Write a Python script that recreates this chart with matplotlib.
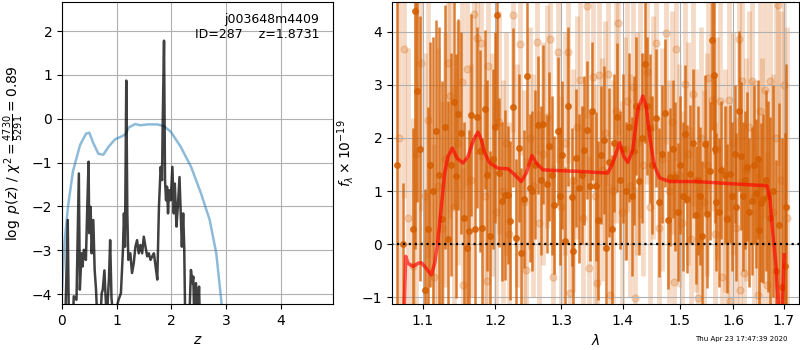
import matplotlib
matplotlib.use("Agg")
import matplotlib.pyplot as plt
from matplotlib.ticker import FixedLocator, FixedFormatter, NullLocator

# left panel: log p(z) (dark) and scaled chi2 curve (blue)
PZ_Z = [0.00, 0.06, 0.105, 0.125, 0.20, 0.215, 0.265, 0.308, 0.326, 0.357, 0.375, 0.40,
        0.437, 0.462, 0.486, 0.498, 0.523, 0.542, 0.572, 0.597, 0.622, 0.646, 0.70,
        0.726, 0.745, 0.775, 0.794, 0.818, 0.860, 0.880, 0.905, 0.942, 1.034, 1.077,
        1.114, 1.132, 1.151, 1.175, 1.194, 1.212, 1.249, 1.280, 1.311, 1.342, 1.372,
        1.403, 1.434, 1.465, 1.495, 1.526, 1.557, 1.588, 1.618, 1.649, 1.680, 1.711,
        1.742, 1.772, 1.803, 1.828, 1.840, 1.865, 1.883, 1.902, 1.920, 1.938, 1.957,
        1.988, 2.018, 2.043, 2.062, 2.092, 2.117, 2.148, 2.172, 2.191, 2.215, 2.234,
        2.252, 2.326, 2.357, 2.382, 2.400, 2.418, 2.449, 2.480, 2.505, 2.52, 4.95]
PZ_LOGP = [-4.6, -4.6, -2.31, -4.6, -4.6, -4.05, -4.13, -1.25, -3.90, -3.07, -3.37, -2.99,
           -3.22, -2.01, -0.98, -2.61, -2.01, -3.07, -2.31, -3.45, -3.90, -4.6, -4.6,
           -3.98, -3.90, -3.46, -3.98, -4.6, -3.6, -2.77, -4.1, -4.6, -4.13, -3.98,
           -2.99, -2.16, -2.92, 0.87, -2.16, -3.22, -3.07, -3.52, -3.30, -2.92, -2.77,
           -3.07, -2.88, -3.07, -2.69, -2.92, -3.14, -3.07, -3.22, -3.14, -3.07, -3.37,
           -3.67, -2.01, -1.10, -1.40, -0.19, 1.78, -1.40, -1.86, -1.55, -2.16, -1.63,
           -1.86, -1.10, -2.16, -1.48, -2.46, -2.01, -1.33, -2.23, -2.92, -2.16, -2.92,
           -4.6, -4.6, -3.45, -3.75, -3.60, -4.6, -3.75, -4.6, -3.83, -4.6, -4.6]

CHI_Z = [0.0, 0.05, 0.11, 0.20, 0.33, 0.44, 0.50, 0.57, 0.665, 0.757, 0.85, 0.97, 1.095,
         1.157, 1.22, 1.34, 1.43, 1.56, 1.74, 1.865, 1.99, 2.17, 2.36, 2.54, 2.70, 2.82,
         2.91, 2.94]
CHI_LOGP = [-3.9, -2.77, -2.0, -1.2, -0.6, -0.34, -0.32, -0.55, -0.80, -0.82, -0.64, -0.47,
            -0.40, -0.36, -0.2, -0.12, -0.15, -0.13, -0.13, -0.17, -0.30, -0.64, -1.10,
            -1.70, -2.31, -3.07, -4.13, -4.58]

# right panel: best-fit model (red)
MODEL_LAM = [1.0747, 1.0773, 1.0803, 1.0869, 1.0934, 1.0978, 1.1023, 1.1112, 1.1156, 1.1201,
             1.1246, 1.1292, 1.1337, 1.1397, 1.1461, 1.1544, 1.1614, 1.1694, 1.1755, 1.1802,
             1.1850, 1.1922, 1.2042, 1.2188, 1.2287, 1.2386, 1.2461, 1.2546, 1.2612, 1.2714,
             1.2868, 1.3289, 1.3751, 1.3834, 1.3946, 1.4018, 1.4086, 1.4171, 1.4257, 1.4343,
             1.4401, 1.4471, 1.4547, 1.4635, 1.4812, 1.5296, 1.5925, 1.6665, 1.6725, 1.6779,
             1.6846, 1.6914, 1.6960, 1.7010]
MODEL_FLUX = [-1.5, -0.23, -0.36, -0.42, -0.36, -0.35, -0.42, -0.58, -0.36, 0.08,
              0.71, 1.34, 1.65, 1.81, 1.62, 1.53, 1.65, 1.97, 2.11, 1.97,
              1.72, 1.53, 1.43, 1.42, 1.31, 1.18, 1.34, 1.67, 1.53, 1.40,
              1.39, 1.37, 1.34, 1.53, 1.91, 1.65, 1.54, 1.78, 2.53, 2.79,
              2.60, 1.97, 1.47, 1.25, 1.18, 1.18, 1.14, 1.10, 0.84, 0.21,
              -0.42, -1.5, -1.6, -0.2]

# first spectrum (dark orange)
DARK_LAM = [1.0660, 1.0737, 1.0864, 1.0898, 1.0920, 1.0960, 1.1030, 1.1067, 1.1100, 1.1140,
            1.1178, 1.1215, 1.1255, 1.1295, 1.1336, 1.1375, 1.1413, 1.1449, 1.1480, 1.1516,
            1.1560, 1.1600, 1.1624, 1.1660, 1.1717, 1.1735, 1.1777, 1.1817, 1.1860, 1.1890,
            1.1925, 1.1965, 1.2000, 1.2032, 1.2057, 1.2101, 1.2147, 1.2190, 1.2215, 1.2268,
            1.2310, 1.2347, 1.2380, 1.2430, 1.2474, 1.2520, 1.2550, 1.2600, 1.2644, 1.2680,
            1.2720, 1.2775, 1.2810, 1.2850, 1.2888, 1.2940, 1.2980, 1.3015, 1.3060, 1.3107,
            1.3160, 1.3190, 1.3225, 1.3280, 1.3320, 1.3360, 1.3410, 1.3465, 1.3490, 1.3550,
            1.3590, 1.3637, 1.3680, 1.3725, 1.3768, 1.3820, 1.3860, 1.3904, 1.3950, 1.4000,
            1.4050, 1.4110, 1.4150, 1.4190, 1.4230, 1.4280, 1.4330, 1.4388, 1.4420, 1.4460,
            1.4510, 1.4570, 1.4630, 1.4680, 1.4740, 1.4780, 1.4830, 1.4880, 1.4920, 1.4960,
            1.5010, 1.5050, 1.5090, 1.5135, 1.5185, 1.5240, 1.5290, 1.5340, 1.5370, 1.5410,
            1.5465, 1.5500, 1.5560, 1.5595, 1.5625, 1.5645, 1.5675, 1.5720, 1.5770, 1.5830,
            1.5880, 1.5930, 1.5980, 1.6030, 1.6060, 1.6100, 1.6140, 1.6180, 1.6220, 1.6260,
            1.6300, 1.6360, 1.6400, 1.6440, 1.6480, 1.6510, 1.6540, 1.6590, 1.6640, 1.6690,
            1.6730, 1.6780, 1.6855, 1.6910, 1.6960, 1.7030, 1.7050]
DARK_FLUX = [1.5, 0.0, 0.28, 4.40, 2.89, 1.8, -0.87, 0.28, 1.5, 1.0,
             2.13, 1.3, 0.48, 2.2, 0.10, 1.5, 2.67, 1.28, 2.45, 2.09,
             0.5, -0.08, 0.25, 2.43, 0.28, 2.39, 1.75, 0.30, 2.54, 1.3,
             0.16, 1.6, 2.2, 4.32, 1.35, 0.81, 0.92, 0.92, 0.44, 2.58,
             0.11, 1.81, -0.16, 0.86, 3.17, 1.06, 1.00, 1.5, 2.25, 1.2,
             2.26, 1.14, 1.84, 1.3, 0.74, 2.13, 0.9, 1.68, 0.06, 2.60,
             0.88, -0.13, 1.62, 1.05, 1.3, 1.77, 2.15, 1.09, 2.51, 1.09,
             0.45, 1.68, 1.96, -0.08, 1.54, 0.28, 1.9, 2.39, 1.21, 1.8,
             1.0, 2.20, 0.9, 1.76, 2.6, 1.19, 2.0, 3.40, 2.6, 2.18,
             1.5, 2.37, 0.79, 1.7, 2.47, 0.45, 1.27, 1.8, 1.27, 0.60,
             1.5, 0.9, 2.08, 0.85, 1.33, 1.9, 0.55, 1.2, 0.9, 0.16,
             1.89, 0.57, 1.38, 3.85, 3.19, 1.79, 0.79, 0.60, 1.4, 1.31,
             0.48, 1.32, 0.9, 1.7, 0.7, 2.51, 1.66, 0.9, 1.2, 1.46,
             0.6, 0.81, 1.5, 0.96, 1.6, 0.26, 0.78, 0.86, 1.2, 0.9,
             0.5, 1.0, -0.51, 0.36, -0.8, -0.41, 0.7]
DARK_ERR = [4.5, 1.15, 1.9, 4.5, 2.1, 2.5, 1.9, 2.3, 2.3, 2.9,
            2.1, 2.8, 2.6, 2.3, 2.6, 2.1, 2.0, 2.3, 1.8, 1.9,
            1.8, 1.7, 1.9, 1.9, 1.8, 1.7, 1.9, 1.7, 1.5, 1.8,
            1.6, 1.7, 1.8, 2.1, 1.4, 1.5, 1.6, 1.3, 1.5, 1.5,
            1.5, 1.4, 1.6, 1.3, 1.7, 1.4, 1.5, 1.4, 1.3, 1.4,
            1.5, 1.3, 1.4, 1.5, 1.3, 1.4, 1.3, 1.4, 1.4, 1.5,
            1.3, 1.4, 1.3, 1.4, 1.3, 1.4, 1.3, 1.4, 1.3, 1.4,
            1.5, 1.3, 1.4, 1.5, 1.4, 1.4, 1.3, 1.4, 1.3, 1.4,
            1.3, 1.4, 1.5, 1.4, 1.3, 1.4, 1.6, 1.5, 1.3, 1.4,
            1.3, 1.3, 1.4, 1.3, 1.4, 1.3, 1.3, 1.3, 1.4, 1.3,
            1.3, 1.4, 1.3, 1.4, 1.3, 1.4, 1.3, 1.4, 1.3, 1.4,
            1.3, 1.4, 1.3, 1.7, 1.5, 1.4, 1.3, 1.4, 1.3, 1.3,
            1.4, 1.3, 1.4, 1.3, 1.4, 1.5, 1.4, 1.4, 1.3, 1.4,
            1.4, 1.4, 1.5, 1.4, 1.5, 1.4, 1.5, 1.6, 1.7, 1.8,
            1.9, 2.0, 2.1, 2.3, 2.8, 2.5, 2.7]

# second spectrum (faint orange)
LIGHT_LAM = [1.0680, 1.0750, 1.0800, 1.0869, 1.0907, 1.0969, 1.1020, 1.1071, 1.1147, 1.1200,
             1.1250, 1.1300, 1.1342, 1.1365, 1.1420, 1.1470, 1.1526, 1.1544, 1.1605, 1.1650,
             1.1703, 1.1736, 1.1798, 1.1850, 1.1888, 1.1903, 1.1960, 1.2010, 1.2060, 1.2110,
             1.2160, 1.2210, 1.2268, 1.2320, 1.2367, 1.2420, 1.2461, 1.2510, 1.2560, 1.2618,
             1.2660, 1.2720, 1.2770, 1.2823, 1.2868, 1.2952, 1.3000, 1.3060, 1.3110, 1.3130,
             1.3180, 1.3240, 1.3297, 1.3350, 1.3415, 1.3439, 1.3500, 1.3540, 1.3575, 1.3610,
             1.3660, 1.3710, 1.3759, 1.3790, 1.3840, 1.3880, 1.3926, 1.3980, 1.4030, 1.4080,
             1.4130, 1.4181, 1.4200, 1.4250, 1.4300, 1.4350, 1.4411, 1.4460, 1.4520, 1.4575,
             1.4620, 1.4680, 1.4752, 1.4800, 1.4850, 1.4890, 1.4932, 1.4990, 1.5040, 1.5095,
             1.5150, 1.5200, 1.5248, 1.5300, 1.5340, 1.5390, 1.5440, 1.5490, 1.5526, 1.5589,
             1.5640, 1.5690, 1.5748, 1.5775, 1.5830, 1.5870, 1.5908, 1.5935, 1.5990, 1.6050,
             1.6101, 1.6124, 1.6167, 1.6203, 1.6250, 1.6300, 1.6362, 1.6410, 1.6476, 1.6520,
             1.6570, 1.6620, 1.6665, 1.6725, 1.6780, 1.6840, 1.6895, 1.6950, 1.7010, 1.7060]
LIGHT_FLUX = [2.0, 3.67, 0.5, -0.42, 1.70, 3.42, 0.9, 2.33, -0.61, 1.1,
              0.3, 1.6, 3.42, 2.80, 0.7, 1.9, 3.05, -0.77, 3.30, 1.2,
              4.33, 3.89, 3.79, 0.9, -0.70, 3.35, 1.5, 0.6, 2.3, 1.0,
              1.9, 0.2, 4.31, 1.3, 3.78, 0.8, -0.48, 2.0, 1.1, 3.80,
              0.4, 1.7, 2.4, 3.87, -0.61, 3.62, 0.7, 1.9, 3.62, -0.92,
              1.2, 2.2, 3.10, 0.5, 4.48, -0.44, 3.15, 0.9, -0.74, 3.19,
              1.4, 2.1, 3.21, -0.96, 1.0, 2.5, 4.16, 0.6, 1.8, 2.7,
              1.1, 2.97, -1.02, 1.9, 2.6, 1.5, 3.24, 0.7, 2.2, 3.79,
              0.3, 1.6, 3.98, 1.0, 2.3, -0.72, 3.67, 1.3, 0.4, 3.01,
              1.7, 0.1, 2.82, 1.2, -1.02, 2.0, 0.8, 1.5, 3.13, 2.72,
              0.2, 1.8, 2.69, -0.61, 1.2, 0.5, 2.72, -1.08, 1.9, 0.3,
              3.87, -0.86, 3.08, -0.55, 1.4, 2.2, 3.07, 0.9, -0.96, 2.5,
              1.1, 2.9, -0.77, 3.07, 0.6, 2.0, 4.50, 1.2, 3.0, 0.5]
LIGHT_ERR = [3.2, 2.8, 3.2, 2.8, 3.0, 2.8, 2.7, 2.6, 2.5, 2.6,
             2.4, 2.4, 2.4, 2.3, 2.3, 2.3, 2.2, 2.2, 2.2, 2.2,
             2.3, 2.2, 2.2, 2.1, 2.2, 2.1, 2.1, 2.1, 2.1, 2.1,
             2.1, 2.1, 2.2, 2.1, 2.1, 2.1, 2.1, 2.1, 2.1, 2.1,
             2.1, 2.1, 2.1, 2.1, 2.1, 2.1, 2.1, 2.1, 2.1, 2.1,
             2.1, 2.1, 2.1, 2.1, 2.1, 2.1, 2.1, 2.1, 2.1, 2.1,
             2.1, 2.1, 2.1, 2.1, 2.1, 2.1, 2.1, 2.1, 2.1, 2.1,
             2.1, 2.1, 2.1, 2.1, 2.1, 2.1, 2.1, 2.1, 2.1, 2.1,
             2.1, 2.1, 2.1, 2.1, 2.1, 2.1, 2.1, 2.1, 2.1, 2.1,
             2.1, 2.1, 2.1, 2.1, 2.1, 2.1, 2.1, 2.1, 2.1, 2.1,
             2.1, 2.1, 2.1, 2.1, 2.1, 2.1, 2.1, 2.1, 2.1, 2.1,
             2.1, 2.1, 2.1, 2.1, 2.1, 2.2, 2.2, 2.2, 2.3, 2.3,
             2.4, 2.4, 2.5, 2.5, 2.6, 2.8, 3.0, 3.2, 3.4, 3.6]

LAM_TICKS = [1.1, 1.2, 1.3, 1.4, 1.5, 1.6, 1.7]
G141_COLOR = (0.8352941176470589, 0.3686274509803922, 0.0)


def main() -> None:
    fig = plt.figure(figsize=(8.0, 3.5), dpi=100)
    ax_pz = fig.add_axes([0.0775, 0.131, 0.3385, 0.863])
    ax_sp = fig.add_axes([0.49, 0.131, 0.5088, 0.863])

    # p(z)
    ax_pz.plot(CHI_Z, CHI_LOGP, color="#1f77b4", alpha=0.5, linewidth=1.8)
    ax_pz.plot(PZ_Z, PZ_LOGP, color="k", alpha=0.75, linewidth=1.8)
    ax_pz.set_xlim(0, 4.95)
    ax_pz.set_ylim(-4.23, 2.66)
    ax_pz.set_xlabel(r"$z$")
    ax_pz.set_ylabel(r"$\log\ p(z)$ / $\chi^2=\frac{4730}{5291}=0.89$")
    ax_pz.text(0.95, 0.965, "j003648m4409\nID=287    z=1.8731", ha="right", va="top",
               transform=ax_pz.transAxes, fontsize=9)
    ax_pz.grid()

    # spectrum
    ax_sp.errorbar(LIGHT_LAM, LIGHT_FLUX, yerr=LIGHT_ERR, color=G141_COLOR, alpha=0.22,
                   marker="o", markersize=5, linestyle="None", elinewidth=3.5, zorder=1)
    ax_sp.errorbar(DARK_LAM, DARK_FLUX, yerr=DARK_ERR, color=G141_COLOR, alpha=0.8,
                   marker="o", markersize=4, linestyle="None", elinewidth=1.8, zorder=2)
    ax_sp.plot(MODEL_LAM, MODEL_FLUX, color="r", alpha=0.65, linewidth=2.5, zorder=3)
    ax_sp.plot([1.0, 2.0], [0, 0], color="k", linestyle=":", linewidth=1.6, zorder=4)
    ax_sp.set_xscale("log")
    ax_sp.set_xlim(1.0596, 1.732)
    ax_sp.set_ylim(-1.13, 4.56)
    ax_sp.xaxis.set_major_locator(FixedLocator(LAM_TICKS))
    ax_sp.xaxis.set_major_formatter(FixedFormatter([f"{v:.1f}" for v in LAM_TICKS]))
    ax_sp.xaxis.set_minor_locator(NullLocator())
    ax_sp.set_xlabel(r"$\lambda$")
    ax_sp.set_ylabel(r"$f_\lambda\times10^{-19}$")
    ax_sp.grid()

    fig.text(0.985, 0.03, "Thu Apr 23 17:47:39 2020", ha="right", va="center", fontsize=5)
    fig.savefig("out.png", dpi=100)
    plt.close(fig)


if __name__ == "__main__":
    main()
